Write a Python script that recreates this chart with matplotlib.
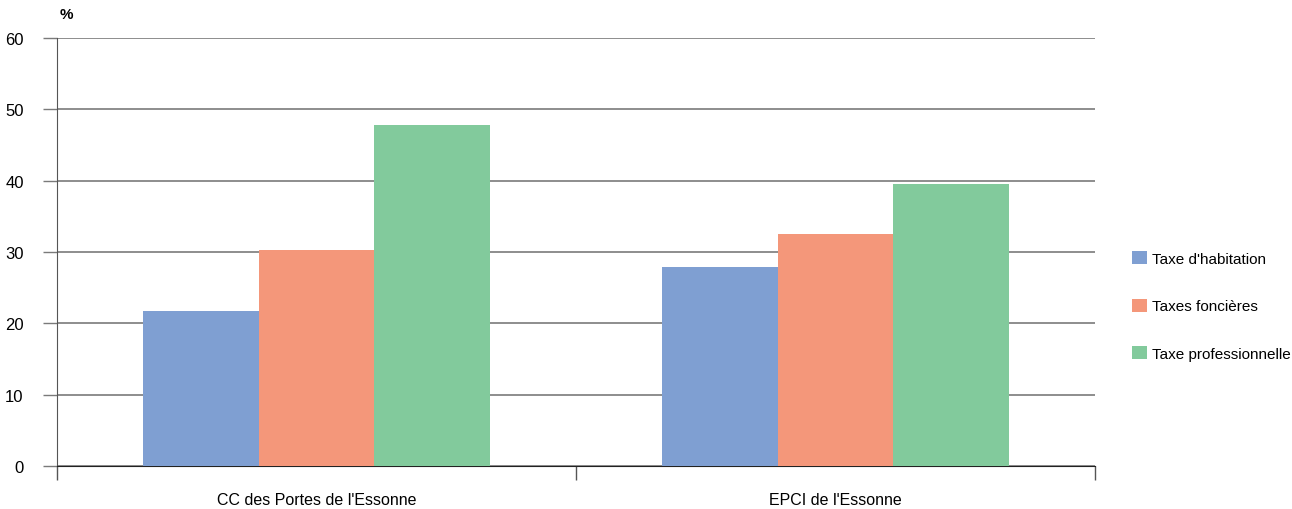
import numpy as np
import matplotlib.pyplot as plt

plt.rcParams['font.family'] = ['Liberation Sans', 'DejaVu Sans']

# share of each tax in the tax receipts (%)
groups = ["CC des Portes de l'Essonne", "EPCI de l'Essonne"]
series = ["Taxe d'habitation", "Taxes foncières", "Taxe professionnelle"]
habitation = [21.7, 27.9]
foncieres = [30.3, 32.5]
professionnelle = [47.8, 39.5]
colors = ['#7f9fd2', '#f4977a', '#82ca9c']

fig = plt.figure(figsize=(12.92, 5.1), dpi=100)
ax = fig.add_axes([0.0441, 0.0843, 0.8034, 0.8392])

x = np.arange(len(groups))
w = 0.223
for i, (vals, lab) in enumerate(zip([habitation, foncieres, professionnelle], series)):
    ax.bar(x + (i - 1) * w, vals, width=w, color=colors[i], label=lab, zorder=3)

ax.set_xlim(-0.5, 1.5)
ax.set_ylim(0, 60)
ax.set_yticks(range(0, 61, 10))
ax.yaxis.grid(True, color='#7a7a7a', lw=1.2, zorder=0)
ax.tick_params(axis='y', length=10, width=1, color='#7a7a7a', labelsize=12, pad=14)

# group labels in the middle, ticks at the group boundaries
ax.set_xticks(x)
ax.set_xticklabels(groups, fontsize=11.5)
ax.tick_params(axis='x', which='major', length=0, pad=19)
ax.set_xticks([-0.5, 0.5, 1.5], minor=True)
ax.tick_params(axis='x', which='minor', length=10, width=1, color='#555555', direction='out')

for s in ['top', 'right']:
    ax.spines[s].set_visible(False)
ax.spines['left'].set_color('#555555')
ax.spines['bottom'].set_color('#222222')

ax.text(0.003, 1.04, '%', transform=ax.transAxes, fontsize=11, fontweight='bold',
        ha='left', va='bottom')

fig.legend(loc='center left', bbox_to_anchor=(0.8715, 0.398), frameon=False, fontsize=11,
           handlelength=0.95, handleheight=0.95, handletextpad=0.35, labelspacing=2.15,
           borderaxespad=0)

fig.savefig('out.png', dpi=100)
